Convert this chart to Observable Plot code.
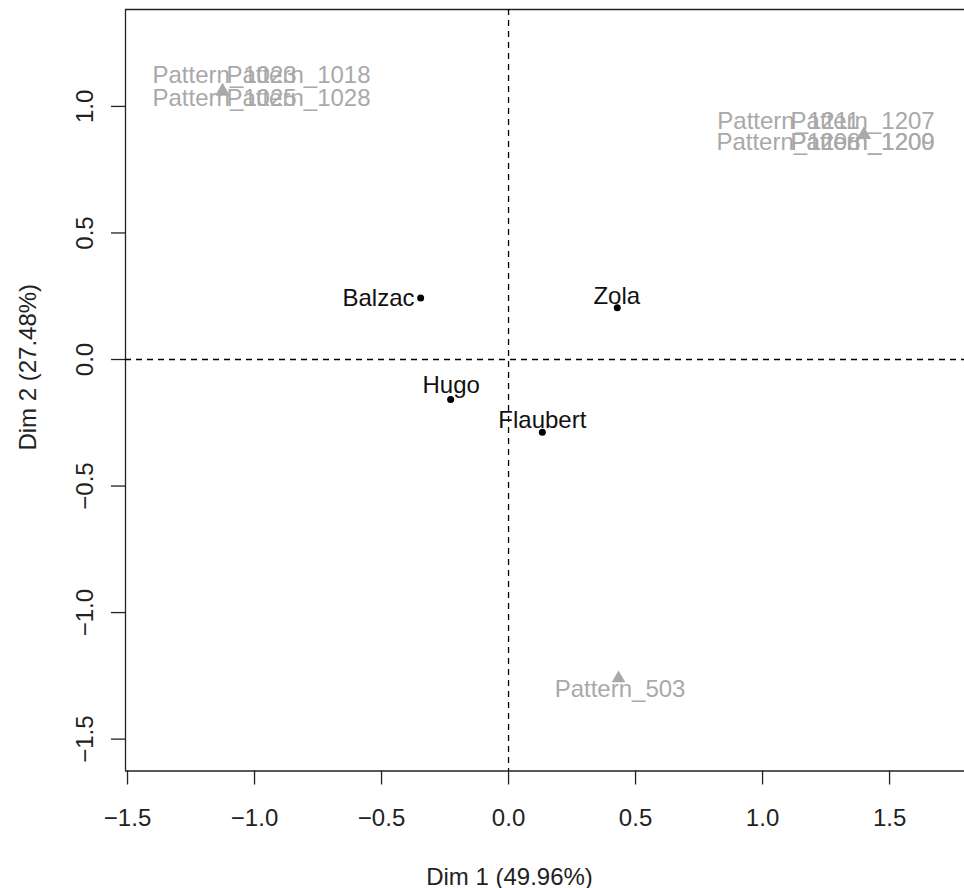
<!DOCTYPE html>
<html>
<head>
<meta charset="utf-8">
<script src="https://cdn.jsdelivr.net/npm/d3@7"></script>
<script src="https://cdn.jsdelivr.net/npm/@observablehq/plot@0.6"></script>
<style>
  html, body { margin: 0; padding: 0; background: white; }
</style>
</head>
<body>
<div id="chart"></div>
<script>
// Row points (authors)
const rowNames = ["Balzac", "Zola", "Hugo", "Flaubert"];
const rowDim1 = [-0.346, 0.428, -0.228, 0.133];
const rowDim2 = [0.243, 0.204, -0.158, -0.287];
// Repelled label anchor positions (data units)
const rowLabelDim1 = [-0.512, 0.426, -0.226, 0.133];
const rowLabelDim2 = [0.242, 0.250, -0.102, -0.242];

// Column points (patterns)
const colNames = ["Pattern_1023", "Pattern_1018", "Pattern_1025", "Pattern_1028",
                  "Pattern_1211", "Pattern_1207", "Pattern_1208", "Pattern_1209", "Pattern_1200",
                  "Pattern_503"];
const colDim1 = [-1.126, -1.126, -1.126, -1.126,
                 1.399, 1.399, 1.399, 1.399, 1.399,
                 0.433];
const colDim2 = [1.060, 1.060, 1.060, 1.060,
                 0.887, 0.887, 0.887, 0.887, 0.887,
                 -1.260];
const colLabelDim1 = [-1.118, -0.827, -1.118, -0.827,
                      1.102, 1.394, 1.102, 1.394, 1.394,
                      0.439];
const colLabelDim2 = [1.122, 1.122, 1.031, 1.031,
                      0.943, 0.943, 0.859, 0.859, 0.859,
                      -1.302];

const xTicks = [-1.5, -1.0, -0.5, 0.0, 0.5, 1.0, 1.5];
const yTicks = [-1.5, -1.0, -0.5, 0.0, 0.5, 1.0];
const xTitle = "Dim 1 (49.96%)";
const yTitle = "Dim 2 (27.48%)";

const xDomain = [-1.508, 1.795];
const yDomain = [-1.626, 1.383];

const rows = rowNames.map((name, i) => ({name, x: rowDim1[i], y: rowDim2[i], lx: rowLabelDim1[i], ly: rowLabelDim2[i]}));
const cols = colNames.map((name, i) => ({name, x: colDim1[i], y: colDim2[i], lx: colLabelDim1[i], ly: colLabelDim2[i]}));

const fmt = d => (d < 0 ? "\u2212" : "") + Math.abs(d).toFixed(1);
const gray = "#a9a9a9";

const chart = Plot.plot({
  width: 964,
  height: 888,
  marginLeft: 125,
  marginRight: 0,
  marginTop: 9,
  marginBottom: 117.5,
  x: {domain: xDomain, axis: null},
  y: {domain: yDomain, axis: null},
  style: {fontFamily: "'Liberation Sans', Arial, Helvetica, sans-serif", fontSize: "24px", background: "white", color: "black"},
  marks: [
    // box (top, bottom, left)
    Plot.ruleY([yDomain[0], yDomain[1]], {stroke: "#222", strokeWidth: 1.3}),
    Plot.ruleX([xDomain[0]], {stroke: "#222", strokeWidth: 1.3}),
    // dashed origin lines
    Plot.ruleX([0], {stroke: "black", strokeWidth: 1.3, strokeDasharray: "6,5"}),
    Plot.ruleY([0], {stroke: "black", strokeWidth: 1.3, strokeDasharray: "6,5"}),
    // axes
    Plot.axisX(xTicks, {anchor: "bottom", tickSize: 14, tickPadding: 24, tickFormat: fmt, fontSize: 24, strokeWidth: 1.3, stroke: "#222", fill: "#222", label: null}),
    Plot.axisY(yTicks, {anchor: "left", tickSize: 14, tickFormat: () => "", strokeWidth: 1.3, stroke: "#222", label: null}),
    Plot.text(yTicks, {y: d => d, frameAnchor: "left", dx: -40, rotate: -90, text: fmt, textAnchor: "middle", lineAnchor: "middle", fontSize: 24, fill: "#222"}),
    // axis titles
    Plot.text([xTitle], {frameAnchor: "bottom", dx: -35.5, dy: 106, text: d => d, textAnchor: "middle", lineAnchor: "middle", fontSize: 24, fill: "#222"}),
    Plot.text([yTitle], {frameAnchor: "left", dx: -97, dy: -23, rotate: -90, text: d => d, textAnchor: "middle", lineAnchor: "middle", fontSize: 24, fill: "#222"}),
    // column points and labels
    Plot.dot(cols, {x: "x", y: "y", symbol: "triangle", r: 5.1, fill: gray, stroke: "none"}),
    Plot.text(cols, {x: "lx", y: "ly", text: "name", fill: gray, fontSize: 24, textAnchor: "middle", lineAnchor: "middle"}),
    // row points and labels
    Plot.dot(rows, {x: "x", y: "y", r: 3.5, fill: "black", stroke: "none"}),
    Plot.text(rows, {x: "lx", y: "ly", text: "name", fill: "#111", fontSize: 24, textAnchor: "middle", lineAnchor: "middle"})
  ]
});

document.getElementById("chart").appendChild(chart);
</script>
</body>
</html>
